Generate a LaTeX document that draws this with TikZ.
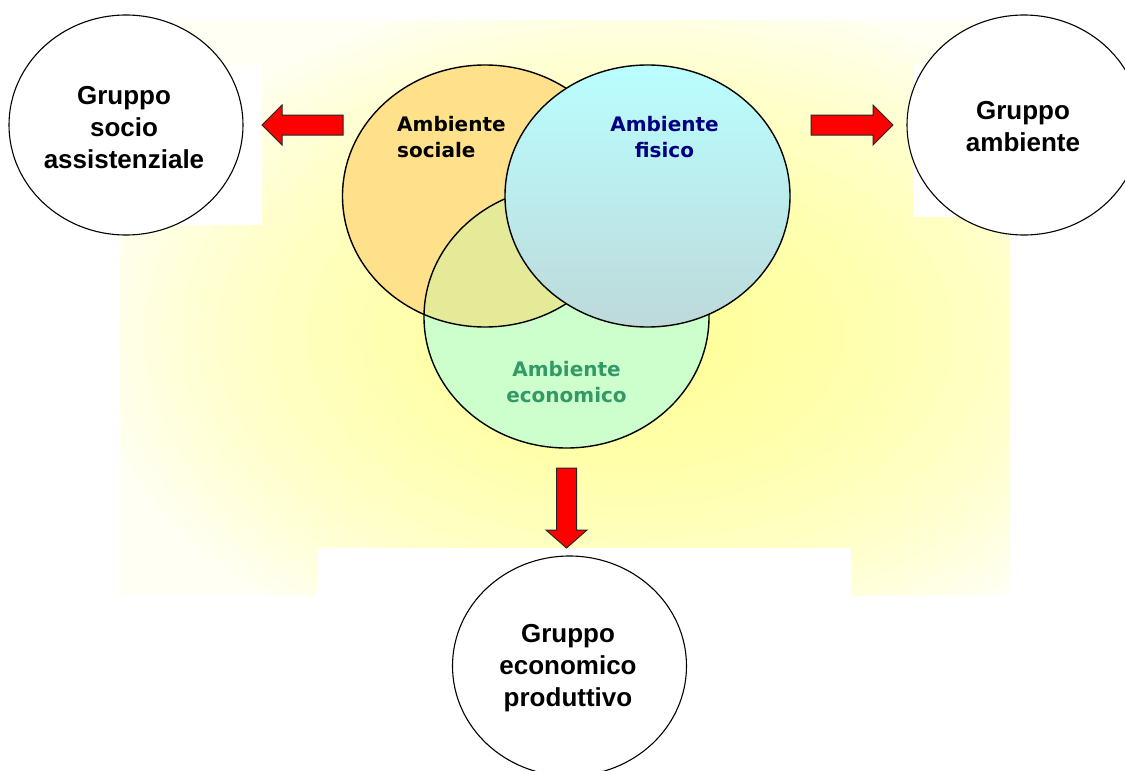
\documentclass[tikz,border=0pt]{standalone}
\usepackage{fontspec}
\usetikzlibrary{shapes.geometric}
\newfontfamily\grpfont{Liberation Sans}
\newfontfamily\ambfont{DejaVu Sans}

\definecolor{glowcore}{HTML}{FFFF80}
\definecolor{glowbase}{HTML}{FFFFF3}
\definecolor{socyellow}{HTML}{FFE18C}
\definecolor{mixtone}{HTML}{E4EA98}
\definecolor{ecogreen}{HTML}{CCFFCC}
\definecolor{fistop}{HTML}{BAFEFF}
\definecolor{fisbot}{HTML}{BED9DA}
\definecolor{fisnavy}{HTML}{000080}
\definecolor{ecotext}{HTML}{339966}
\definecolor{arrowred}{HTML}{FF0000}

\begin{document}
\begin{tikzpicture}[x=1pt,y=-1pt,
  grp/.style={ellipse, draw=black, line width=1.1pt, fill=white,
    minimum width=234pt, minimum height=220pt, inner sep=0pt},
  grptext/.style={font={\grpfont\bfseries\fontsize{26}{32}\selectfont},
    align=center, inner sep=0pt},
  venn/.style={ellipse, minimum width=285pt, minimum height=262pt, inner sep=0pt},
  vennline/.style={draw=black, line width=1.4pt},
  ambtext/.style={font={\ambfont\bfseries\fontsize{20}{25.6}\selectfont}, inner sep=0pt},
  blockarrow/.style={fill=arrowred, draw=black!85, line width=1pt, line join=miter}]

\useasboundingbox (0,0) rectangle (1125,771);
\fill[white] (0,0) rectangle (1125,771);

% background glow: a pale panel with stacked translucent ellipses on it
\coordinate (glowc) at (630,335);
\begin{scope}
  \clip (120,20) rectangle (1010,595);
  \fill[glowbase] (120,20) rectangle (1010,595);
  \foreach \k in {1,...,30}
    \fill[glowcore, fill opacity=0.045]
      (glowc) ellipse [x radius={18*\k pt}, y radius={11.5*\k pt}];
\end{scope}

% white panels behind the three groups
\fill[white] (0,65) rectangle (262,225);
\fill[white] (913,65) rectangle (1125,217);
\fill[white] (318,548) rectangle (851,771);

% the three groups
\node[grp] (gsa) at (126,125) {};
\node[grp] (gam) at (1024,125) {};
\node[grp] (gep) at (569.5,666) {};
\node[grptext] (tsa) at (124,128) {Gruppo\\socio\\assistenziale};
\node[grptext] (tam) at (1023,127) {Gruppo\\ambiente};
\node[grptext] (tep) at (568,668) {Gruppo\\economico\\produttivo};

% the three environments
\node[venn, fill=ecogreen] (eco) at (566.5,317) {};
\node[venn, fill=socyellow] (soc) at (485,196) {};
\begin{scope}
  \clip (eco.center) ellipse [x radius=142.5pt, y radius=131pt];
  \fill[mixtone] (soc.center) ellipse [x radius=142.5pt, y radius=131pt];
\end{scope}
\draw[vennline] (eco.center) ellipse [x radius=142.5pt, y radius=131pt];
\draw[vennline] (soc.center) ellipse [x radius=142.5pt, y radius=131pt];
\node[venn, top color=fistop, bottom color=fisbot, draw=black, line width=1.4pt] (fis) at (647.5,196) {};

\node[ambtext, anchor=west, align=left] (tsoc) at (397,137) {Ambiente\\sociale};
\node[ambtext, align=center, text=fisnavy] (tfis) at (664.5,137) {Ambiente\\fisico};
\node[ambtext, align=center, text=ecotext] (teco) at (566.5,382) {Ambiente\\economico};

% block arrows towards the groups
\coordinate (tipL) at (262,125);
\draw[blockarrow] (tipL) -- ++(20,-20) -- ++(0,10) -- ++(61,0) -- ++(0,20)
  -- ++(-61,0) -- ++(0,10) -- cycle;
\coordinate (tipR) at (893,125);
\draw[blockarrow] (tipR) -- ++(-20,-20) -- ++(0,10) -- ++(-62,0) -- ++(0,20)
  -- ++(62,0) -- ++(0,10) -- cycle;
\coordinate (tipD) at (566.5,548);
\draw[blockarrow] (tipD) -- ++(-20.5,-18) -- ++(10.5,0) -- ++(0,-62) -- ++(20,0)
  -- ++(0,62) -- ++(10.5,0) -- cycle;
\end{tikzpicture}
\end{document}
